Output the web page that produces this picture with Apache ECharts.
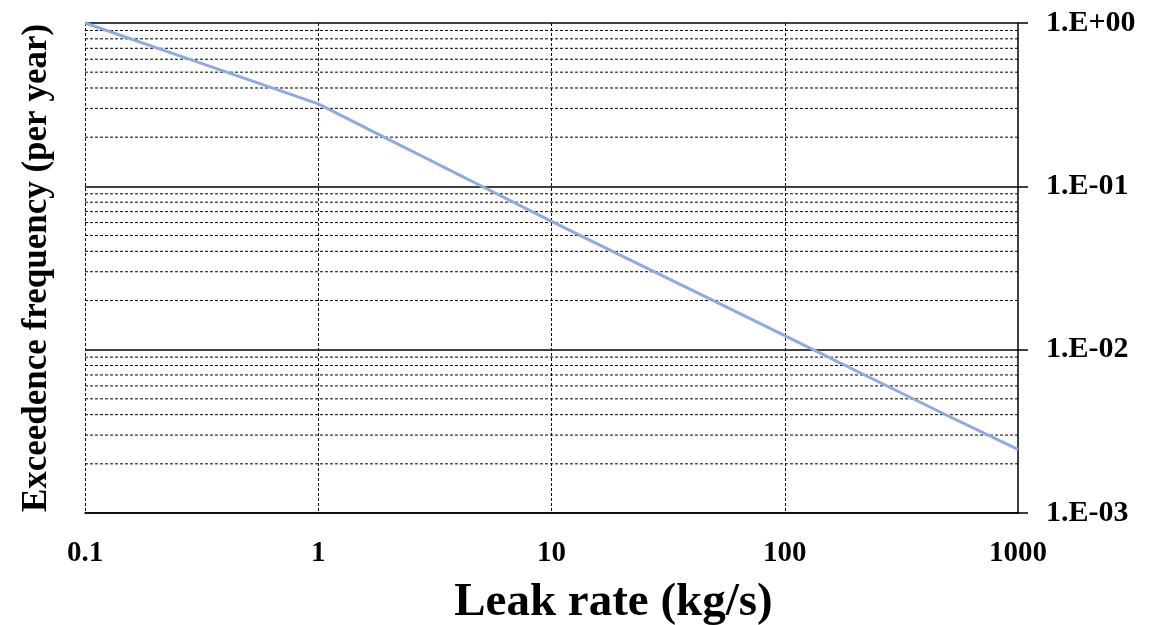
<!DOCTYPE html>
<html>
<head>
<meta charset="utf-8">
<script src="https://cdn.jsdelivr.net/npm/echarts@6/dist/echarts.min.js"></script>
<style>html,body{margin:0;padding:0;background:#fff;}#c{width:1161px;height:625px;}</style>
</head>
<body>
<div id="c"></div>
<script>
// Data
const leakRate = [0.1, 0.3, 1, 2, 5, 10, 20, 50, 100, 200, 500, 1000];
const frequency = [1.0, 0.58, 0.32, 0.194, 0.1005, 0.061, 0.0375, 0.0198, 0.0122, 0.00748, 0.00394, 0.00245];
const xTickValues = [0.1, 1, 10, 100, 1000];
const xTickLabels = ['0.1', '1', '10', '100', '1000'];
const yTickValues = [0.001, 0.01, 0.1, 1];
const yTickLabels = ['1.E-03', '1.E-02', '1.E-01', '1.E+00'];
const yMinorValues = [
  0.002, 0.003, 0.004, 0.005, 0.006, 0.007, 0.008, 0.009,
  0.02, 0.03, 0.04, 0.05, 0.06, 0.07, 0.08, 0.09,
  0.2, 0.3, 0.4, 0.5, 0.6, 0.7, 0.8, 0.9
];
const xName = 'Leak rate (kg/s)';
const yName = 'Exceedence frequency (per year)';

const FONT = "'Liberation Serif', 'Times New Roman', serif";
const X_MIN = xTickValues[0];
const X_MAX = xTickValues[xTickValues.length - 1];
const DASH = [3, 2];

function lookup(values, labels, v) {
  for (let i = 0; i < values.length; i++) {
    if (Math.abs(Math.log10(v) - Math.log10(values[i])) < 1e-6) return labels[i];
  }
  return '';
}

// minor horizontal grid lines, drawn as dashed line series spanning the x range
const minorSeries = yMinorValues.map(v => ({
  type: 'line',
  yAxisIndex: 0,
  z: 1,
  silent: true,
  symbol: 'none',
  showSymbol: false,
  data: [[X_MIN, v], [X_MAX, v]],
  lineStyle: {color: '#000', type: DASH, width: 1},
  emphasis: {disabled: true}
}));

const chart = echarts.init(document.getElementById('c'), null, {renderer: 'canvas'});
chart.setOption({
  animation: false,
  backgroundColor: '#ffffff',
  grid: {left: 85, right: 143, top: 23, bottom: 112, containLabel: false, outerBoundsMode: 'none'},
  xAxis: {
    type: 'log', logBase: 10, min: X_MIN, max: X_MAX,
    name: xName, nameLocation: 'middle', nameGap: 66,
    nameTextStyle: {fontFamily: FONT, fontWeight: 'bold', fontSize: 47, color: '#000', padding: [0, 0, 0, 124]},
    axisLine: {show: true, lineStyle: {color: '#000', width: 1.5}},
    axisTick: {show: false},
    axisLabel: {
      margin: 26, fontFamily: FONT, fontWeight: 'bold', fontSize: 29, color: '#000',
      formatter: v => lookup(xTickValues, xTickLabels, v)
    },
    splitLine: {show: true, showMaxLine: false, lineStyle: {color: '#000', type: DASH, width: 1}}
  },
  yAxis: [{
    type: 'log', logBase: 10, min: 0.001, max: 1, position: 'right',
    axisLine: {show: true, lineStyle: {color: '#000', width: 1.5}},
    axisTick: {show: true, inside: false, length: 10, lineStyle: {color: '#000', width: 1.5}},
    axisLabel: {
      margin: 28, fontFamily: FONT, fontWeight: 'bold', fontSize: 30, color: '#000',
      formatter: v => lookup(yTickValues, yTickLabels, v)
    },
    splitLine: {show: true, lineStyle: {color: '#000', type: 'solid', width: 1.5}}
  }, {
    type: 'log', logBase: 10, min: 0.001, max: 1, position: 'left',
    name: yName, nameLocation: 'middle', nameGap: 31, nameRotate: 90,
    nameTextStyle: {fontFamily: FONT, fontWeight: 'bold', fontSize: 35, color: '#000'},
    axisLine: {show: false}, axisTick: {show: false}, axisLabel: {show: false},
    splitLine: {show: false}
  }],
  series: minorSeries.concat([{
    type: 'line',
    yAxisIndex: 0,
    z: 5,
    data: leakRate.map((x, i) => [x, frequency[i]]),
    showSymbol: false,
    symbol: 'none',
    smooth: false,
    lineStyle: {color: '#8FAADC', width: 3},
    silent: true
  }])
});
</script>
</body>
</html>
